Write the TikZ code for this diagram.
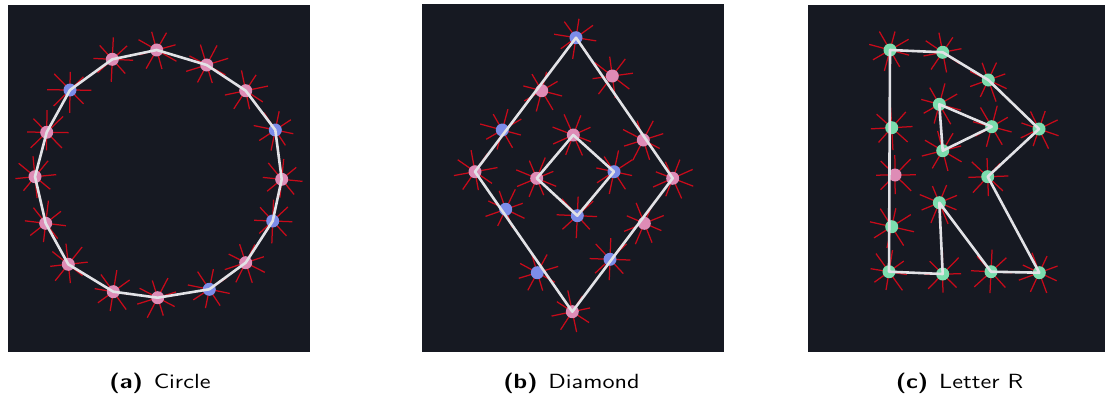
\documentclass[tikz,border=0pt]{standalone}
\usepackage{fontspec}
\usepackage{graphicx}
\usepackage{xcolor}
\newfontfamily\capfont{lmsans10-regular}[Extension=.otf,BoldFont=lmsans10-bold]
\definecolor{panelbg}{RGB}{22,25,34}
\definecolor{dotpink}{RGB}{222,140,182}
\definecolor{dotblue}{RGB}{124,140,232}
\definecolor{dotgreen}{RGB}{124,221,174}
\definecolor{spikered}{RGB}{200,10,26}
\definecolor{edgewhite}{RGB}{226,226,230}
\usetikzlibrary{calc}

\newcommand{\subcap}[2]{\scalebox{1.18}[1]{\textbf{(#1)}\hspace{0.45em}#2}}

\tikzset{
  panel/.style={fill=panelbg,draw=none},
  dot/.style={circle,inner sep=0pt,minimum size=13pt,draw=none},
  spike/.style={spikered,line width=1.25pt},
  edge/.style={edgewhite,line width=2.6pt,line join=round},
  caption/.style={font=\fontsize{20.5}{24}\selectfont\capfont,anchor=base,inner sep=0pt}
}

\begin{document}
\begin{tikzpicture}[x=1pt,y=-1pt]
  \useasboundingbox (0,0) rectangle (1105,396);
  \pgfmathsetseed{11}
  \fill[panel] (8,5) rectangle (310,352);
  \fill[panel] (422,4) rectangle (724,352);
  \fill[panel] (808,5) rectangle (1105,352);

  \foreach \n/\x/\y/\c in {
    a1/156.7/50/dotpink, a2/206.7/65/dotpink, a3/245.7/90.7/dotpink, a4/275.3/130/dotblue,
    a5/281.7/179.3/dotpink, a6/272.7/221/dotblue, a7/245.7/262.7/dotpink, a8/209.3/289.3/dotblue,
    a9/157.7/297.7/dotpink, a10/113.3/291.7/dotpink, a11/68.3/264.3/dotpink, a12/45.7/223.3/dotpink,
    a13/35/176.7/dotpink, a14/46.7/132.3/dotpink, a15/70/90/dotblue, a16/112.3/59.3/dotpink,
    b1/576/37.7/dotblue, b2/672.7/178.3/dotpink, b3/572.3/311.7/dotpink, b4/475/171.7/dotpink,
    b5/541.7/90.7/dotpink, b6/502.3/130/dotblue, b7/612.3/76/dotpink, b8/643.3/140/dotpink,
    b9/644.3/223.3/dotpink, b10/610/259.3/dotblue, b11/505.7/209.3/dotblue, b12/537.3/272.7/dotblue,
    b13/573.3/135/dotpink, b14/614/171.7/dotblue, b15/577.3/215.7/dotblue, b16/536.7/178.3/dotpink,
    c1/890/50/dotgreen, c2/942.7/52.3/dotgreen, c3/988.3/80/dotgreen, c4/1039/129/dotgreen,
    c5/987.7/176.7/dotgreen, c6/1039.3/272.7/dotgreen, c7/991/271.7/dotgreen, c8/939.3/202.7/dotgreen,
    c9/942.7/274/dotgreen, c10/889/271.7/dotgreen, c11/891.7/226.7/dotgreen, c12/895/175/dotpink,
    c13/891.7/127.7/dotgreen, t1/939.3/104.3/dotgreen, t2/991.7/126.7/dotgreen, t3/942.7/150.7/dotgreen}
  {
    \pgfmathsetmacro{\rot}{45*rnd}
    \foreach \k in {0,...,7}{
      \pgfmathsetmacro{\len}{18+5*rnd}
      \draw[spike] (\x,\y) -- ++(\rot+\k*45:\len);
    }
    \node[dot,fill=\c] (\n) at (\x,\y) {};
  }

  \draw[edge] (a1.center) -- (a2.center) -- (a3.center) -- (a4.center) -- (a5.center) -- (a6.center)
    -- (a7.center) -- (a8.center) -- (a9.center) -- (a10.center) -- (a11.center) -- (a12.center)
    -- (a13.center) -- (a14.center) -- (a15.center) -- (a16.center) -- cycle;

  \draw[edge] (b1.center) -- (b2.center) -- (b3.center) -- (b4.center) -- cycle;
  \draw[edge] (b13.center) -- (b14.center) -- (b15.center) -- (b16.center) -- cycle;

  \draw[edge] (c1.center) -- (c2.center) -- (c3.center) -- (c4.center) -- (c5.center) -- (c6.center)
    -- (c7.center) -- (c8.center) -- (c9.center) -- (c10.center) -- cycle;
  \draw[edge] (t1.center) -- (t2.center) -- (t3.center) -- cycle;

  \node[caption] (capa) at (160,388.5) {\subcap{a}{Circle}};
  \node[caption] (capb) at (571.5,388.5) {\subcap{b}{Diamond}};
  \node[caption] (capc) at (959.5,388.5) {\subcap{c}{Letter R}};
\end{tikzpicture}
\end{document}
